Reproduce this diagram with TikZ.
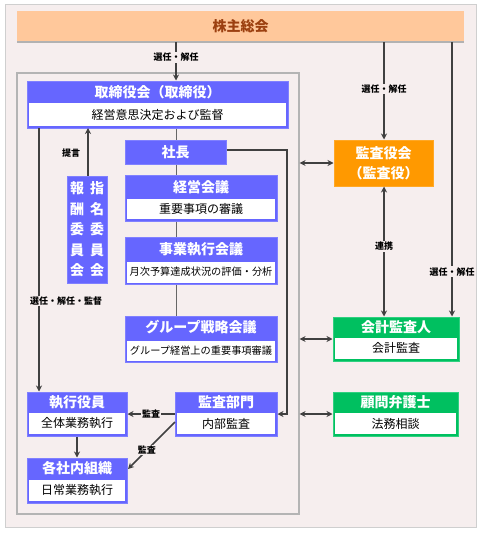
\documentclass[tikz,border=0pt]{standalone}
\usepackage{fontspec}
\setmainfont{Noto Sans CJK JP}
\usetikzlibrary{arrows.meta}
\definecolor{bg}{HTML}{F6EEEE}
\definecolor{frame}{HTML}{CFCFCF}
\definecolor{inner}{HTML}{B4B4B4}
\definecolor{purp}{HTML}{6666FF}
\definecolor{pborder}{HTML}{8080FF}
\definecolor{grn}{HTML}{00C060}
\definecolor{gborder}{HTML}{30D080}
\definecolor{orng}{HTML}{FF9900}
\definecolor{peach}{HTML}{FFC89B}
\definecolor{brown}{HTML}{9C4010}
\definecolor{lc}{HTML}{404040}
\begin{document}
\begin{tikzpicture}[x=1pt,y=-1pt,
  pbox/.style={draw=pborder, fill=purp, line width=1pt, inner sep=0pt, rectangle},
  gbox/.style={draw=gborder, fill=grn, line width=1pt, inner sep=0pt, rectangle},
  wbody/.style={fill=white, inner sep=0pt, rectangle, text=black, font=\fontsize{12}{14}\selectfont},
  htxt/.style={text=white, inner sep=0pt, font=\fontsize{14}{16}\bfseries\selectfont},
  lbl/.style={fill=bg, inner sep=1pt, text=black, font=\fontsize{9}{10}\bfseries\selectfont},
  conn/.style={draw=lc, line width=1.5pt},
  thin/.style={draw=lc!80, line width=0.9pt},
  arrowed/.style={conn, -{Stealth[length=6pt,width=6pt]}},
  both/.style={conn, {Stealth[length=6pt,width=6pt]}-{Stealth[length=6pt,width=6pt]}}
]
\useasboundingbox (0,0) rectangle (481,535);
% background frame
\path[fill=bg, draw=frame, line width=1pt] (5,5) rectangle (476,527);
% shareholders
\fill[gray!60] (17,41) rectangle (464,43);
\node[fill=peach, minimum width=447, minimum height=30, inner sep=0pt, text=brown, font=\fontsize{14}{16}\bfseries\selectfont] (kabu) at (240.5,26) {株主総会};
% inner frame
\node[draw=inner, line width=1.2pt, minimum width=282, minimum height=441, inner sep=0pt] (grp) at (158,293.5) {};

% board
\node[pbox, minimum width=261, minimum height=47] (tr) at (157.5,104.5) {};
\node[htxt] (trh) at (157.5,92) {取締役会（取締役）};
\node[wbody, minimum width=257, minimum height=23] (trb) at (157.5,114.5) {経営意思決定および監督};

% president
\node[pbox, minimum width=101, minimum height=24, htxt] (sh) at (175.5,152) {社長};

% keiei kaigi
\node[pbox, minimum width=152, minimum height=46] (kk) at (201,198) {};
\node[htxt] (kkh) at (201,187) {経営会議};
\node[wbody, minimum width=148, minimum height=20] (kkb) at (201,209) {重要事項の審議};

% jigyo shikko
\node[pbox, minimum width=152, minimum height=47] (js) at (201,260.5) {};
\node[htxt] (jsh) at (201,249) {事業執行会議};
\node[wbody, minimum width=148, minimum height=21, font=\fontsize{10.2}{12}\selectfont] (jsb) at (201,272) {月次予算達成状況の評価・分析};

% group senryaku
\node[pbox, minimum width=152, minimum height=46] (gs) at (201,339) {};
\node[htxt] (gsh) at (201,327.5) {グループ戦略会議};
\node[wbody, minimum width=148, minimum height=20, font=\fontsize{10.2}{12}\selectfont] (gsb) at (201,350.5) {グループ経営上の重要事項審議};

% committees
\node[pbox, minimum width=40, minimum height=107] (cm) at (87,229.5) {};
\node[htxt, align=center, font=\fontsize{14}{20.5}\bfseries\selectfont] (cml) at (77,229.5) {報\\酬\\委\\員\\会};
\node[htxt, align=center, font=\fontsize{14}{20.5}\bfseries\selectfont] (cmr) at (97,229.5) {指\\名\\委\\員\\会};

% auditors board
\node[draw=orng!85!white, fill=orng, line width=1pt, minimum width=99, minimum height=46, inner sep=0pt, htxt, align=center, font=\fontsize{14}{20}\bfseries\selectfont] (ka) at (383.5,163) {監査役会\\（監査役）};

% accounting auditor
\node[gbox, minimum width=126, minimum height=44] (ai) at (396,339) {};
\node[htxt] (aih) at (396,327) {会計監査人};
\node[wbody, minimum width=122, minimum height=21] (aib) at (396,348) {会計監査};

% legal advisor
\node[gbox, minimum width=125, minimum height=44] (lw) at (395.5,414) {};
\node[htxt] (lwh) at (395.5,402.5) {顧問弁護士};
\node[wbody, minimum width=121, minimum height=21] (lwb) at (395.5,423.5) {法務相談};

% audit dept
\node[pbox, minimum width=102, minimum height=44] (ad) at (226,414) {};
\node[htxt] (adh) at (226,402.5) {監査部門};
\node[wbody, minimum width=98, minimum height=21] (adb) at (226,423.5) {内部監査};

% executive officers
\node[pbox, minimum width=100, minimum height=44] (eo) at (77,414) {};
\node[htxt] (eoh) at (77,402.5) {執行役員};
\node[wbody, minimum width=96, minimum height=21] (eob) at (77,423.5) {全体業務執行};

% internal organisations
\node[pbox, minimum width=100, minimum height=45] (io) at (77,480.5) {};
\node[htxt] (ioh) at (77,468.5) {各社内組織};
\node[wbody, minimum width=96, minimum height=21] (iob) at (77,490) {日常業務執行};

% coordinates
\coordinate (k1) at (176,42);
\coordinate (k2) at (384,42);
\coordinate (k3) at (452,42);
\coordinate (shc) at (287,150);
\coordinate (trl) at (39,128);
\coordinate (cmt) at (88,128);
\coordinate (adl) at (175,422);
\coordinate (ioe) at (128,469);

% connectors
\draw[arrowed] (k1) -- (k1 |- tr.north) node[lbl, pos=0.4] {選任・解任};
\draw[arrowed] (k2) -- (k2 |- ka.north) node[lbl, pos=0.48] {選任・解任};
\draw[arrowed] (k3) -- (k3 |- ai.north) node[lbl, pos=0.837] {選任・解任};

\draw[thin] (k1 |- tr.south) -- (k1 |- sh.north);
\draw[thin] (k1 |- sh.south) -- (k1 |- kk.north);
\draw[thin] (k1 |- kk.south) -- (k1 |- js.north);
\draw[thin] (k1 |- js.south) -- (k1 |- gs.north);

\draw[arrowed] (sh.east |- shc) -- (shc) -- (shc |- ad.east) -- (ad.east);

\draw[both] (grp.east |- ka.west) -- (ka.west);
\draw[both] (ka.south -| k2) -- (k2 |- ai.north) node[lbl, pos=0.46] {連携};
\draw[both] (grp.east |- ai.west) -- (ai.west);
\draw[both] (grp.east |- lw.west) -- (lw.west);

\draw[arrowed] (trl) -- (trl |- eo.north) node[lbl, pos=0.657, xshift=27pt] {選任・解任・監督};
\draw[arrowed] (cmt |- cm.north) -- (cmt);
\node[lbl, fill=none] (tg) at (71,153) {提言};

\draw[arrowed] (ad.west) -- (eo.east) node[lbl, pos=0.5] {監査};
\draw[arrowed] (adl) -- (ioe) node[lbl, pos=0.6] {監査};
\draw[arrowed] (eo.south) -- (io.north);
\end{tikzpicture}
\end{document}
